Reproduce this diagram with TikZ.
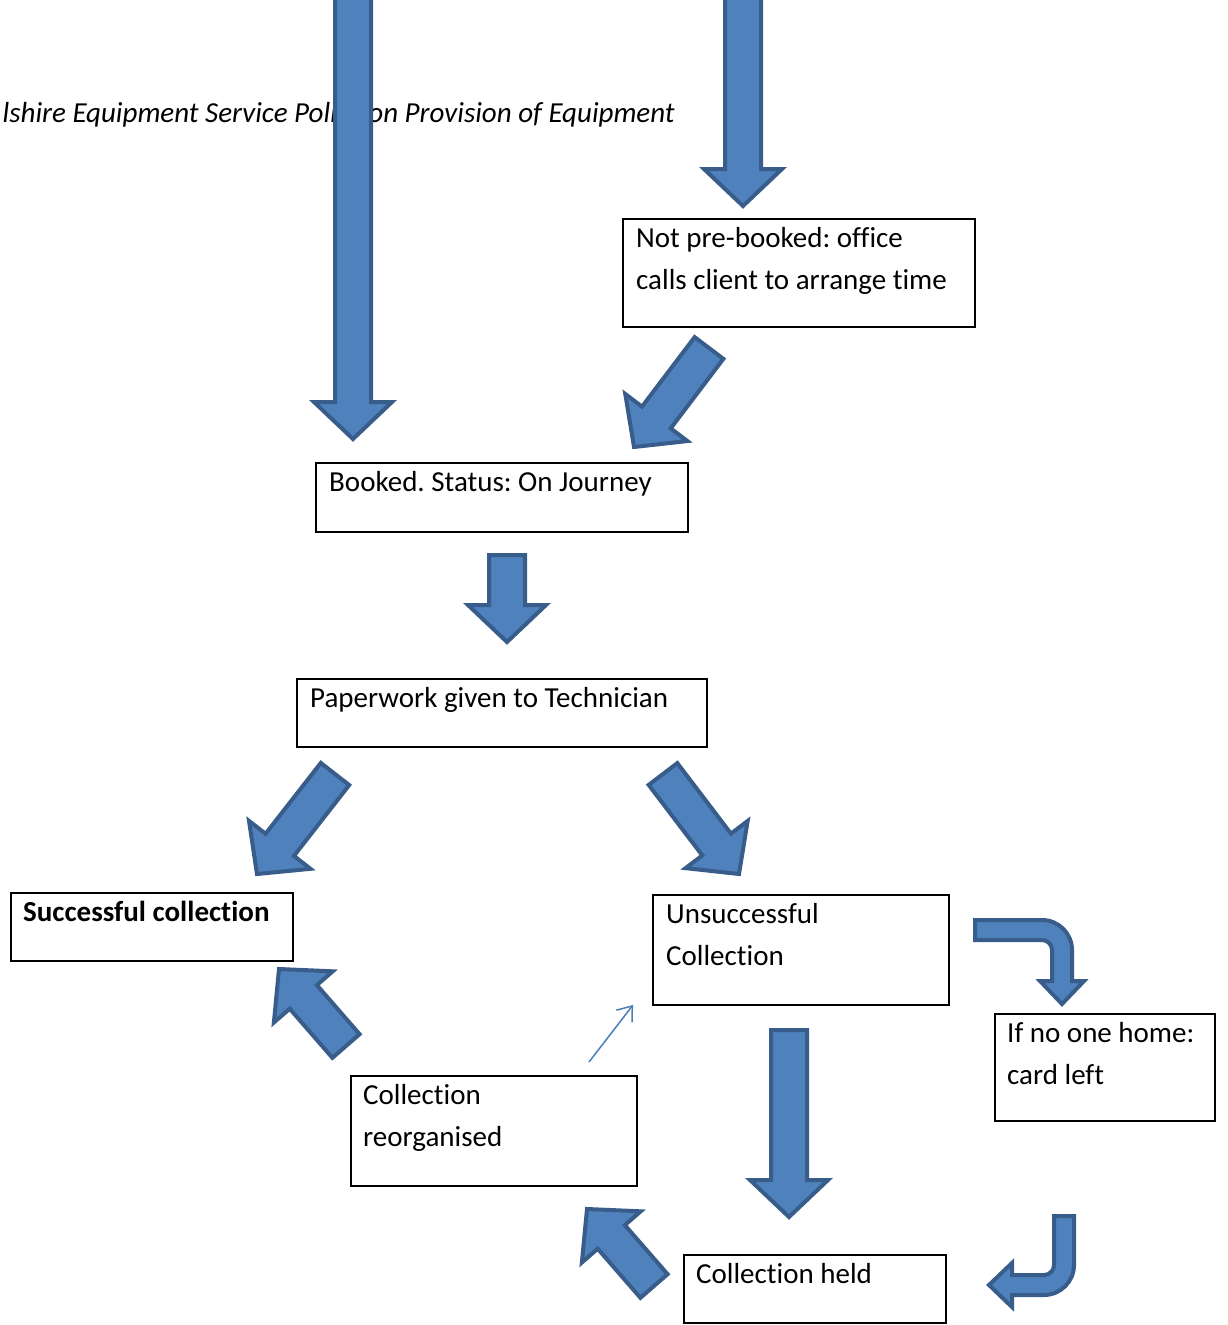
\documentclass[tikz,border=0pt]{standalone}
\usepackage{fontspec}
\setmainfont{Carlito}[Ligatures={NoCommon}]
\usetikzlibrary{calc,arrows.meta}
\definecolor{afill}{HTML}{4F81BD}
\definecolor{aline}{HTML}{385D8A}
\definecolor{thinblue}{HTML}{4A7EBB}
\frenchspacing
\tikzset{
  blockarrow/.style={fill=afill,draw=aline,line width=4pt,line join=miter},
  box/.style={draw=black,line width=2pt,inner sep=0pt,anchor=north west},
  txt/.style={inner sep=0pt,anchor=base west,align=left,font=\fontsize{29}{42}\selectfont},
}
\newcommand\barrow[3]{%
  \coordinate (#1t) at #2;
  \coordinate (#1p) at #3;
  \coordinate (#1b) at ($(#1p)!37pt!(#1t)$);
  \draw[blockarrow] ($(#1t)!18pt!90:(#1p)$) -- ($(#1b)!18pt!90:(#1p)$) -- ($(#1b)!39pt!90:(#1p)$)
    -- (#1p) -- ($(#1b)!39pt!-90:(#1p)$) -- ($(#1b)!18pt!-90:(#1p)$) -- ($(#1t)!18pt!-90:(#1p)$) -- cycle;
}
\begin{document}
\begin{tikzpicture}[x=1pt,y=-1pt]
\useasboundingbox (0,0) rectangle (1227,1325);
\fill[white] (0,0) rectangle (1227,1325);

% title
\node[inner sep=0pt,anchor=base east,font=\fontsize{29}{35}\selectfont\itshape] (title) at (675,122) {lshire Equipment Service Policy on Provision of Equipment};

% boxes (two-line texts: base anchor is on the last line)
\node[box,minimum width=352pt,minimum height=108pt] (notpre) at (622,218) {};
\node[txt] (notpret) at ($(notpre.north west)+(14,71)$) {Not pre-booked: office\\calls client to arrange time};
\node[box,minimum width=372pt,minimum height=69pt] (booked) at (315,462) {};
\node[txt] (bookedt) at ($(booked.north west)+(14,29)$) {Booked. Status: On Journey};
\node[box,minimum width=410pt,minimum height=68pt] (paper) at (296,678) {};
\node[txt] (papert) at ($(paper.north west)+(14,29)$) {Paperwork given to Technician};
\node[box,minimum width=282pt,minimum height=68pt] (succ) at (10,892) {};
\node[txt,font=\fontsize{29}{42}\selectfont\bfseries] (succt) at ($(succ.north west)+(13,29)$) {Successful collection};
\node[box,minimum width=296pt,minimum height=110pt] (unsucc) at (652,894) {};
\node[txt] (unsucct) at ($(unsucc.north west)+(14,71)$) {Unsuccessful\\Collection};
\node[box,minimum width=220pt,minimum height=107pt] (noone) at (994,1013) {};
\node[txt] (noonet) at ($(noone.north west)+(13,71)$) {If no one home:\\card left};
\node[box,minimum width=286pt,minimum height=110pt] (reorg) at (350,1075) {};
\node[txt] (reorgt) at ($(reorg.north west)+(13,71)$) {Collection\\reorganised};
\node[box,minimum width=262pt,minimum height=68pt] (held) at (683,1254) {};
\node[txt] (heldt) at ($(held.north west)+(13,29)$) {Collection held};

% straight block arrows
\barrow{a1}{(353,-10)}{(353,439)}
\barrow{a2}{(743,-10)}{(743,206)}
\barrow{a3}{(709,348)}{(634,447)}
\barrow{a4}{(507,555)}{(507,642)}
\barrow{a5}{(335,774)}{(257,874)}
\barrow{a6}{(663,774)}{(739,874)}
\barrow{a8}{(789,1030)}{(789,1217)}
\barrow{a9}{(346,1046)}{(279,969)}
\barrow{a10}{(654,1286)}{(587,1209)}

% bent arrow right then down
\draw[blockarrow] (975,920) -- (1042,920) arc[start angle=-90,end angle=0,radius=30]
  -- (1072,981) -- (1084,981) -- (1062,1004) -- (1040,981) -- (1052,981) -- (1052,950)
  arc[start angle=0,end angle=-90,radius=10] -- (975,940) -- cycle;

% bent arrow up then left
\draw[blockarrow] (1054,1216) -- (1074,1216) -- (1074,1265) arc[start angle=0,end angle=90,radius=30]
  -- (1012,1295) -- (1012,1307) -- (989,1285) -- (1012,1263) -- (1012,1275) -- (1044,1275)
  arc[start angle=90,end angle=0,radius=10] -- cycle;

% thin arrow
\coordinate (th1) at (589,1062);
\coordinate (th2) at (633,1005);
\draw[draw=thinblue,line width=1.5pt,-{Straight Barb[length=13pt,width=20pt]}] (th1) -- (th2);
\end{tikzpicture}
\end{document}
